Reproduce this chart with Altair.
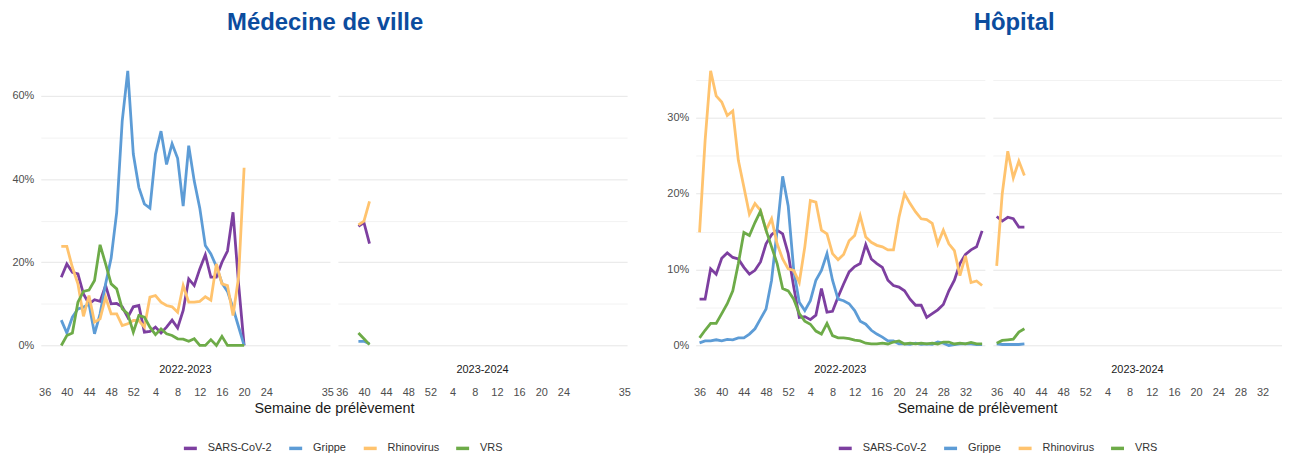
import altair as alt
import pandas as pd

SERIES = ["SARS-CoV-2", "Grippe", "Rhinovirus", "VRS"]
COLORS = ["#7d3fa0", "#5d9cd6", "#ffc36e", "#6dab48"]
SEASONS = ["2022-2023", "2023-2024"]
GROUPS = ["Médecine de ville", "Hôpital"]

# ---------------- Médecine de ville ----------------
mv1_weeks = [39, 40, 41, 42, 43, 44, 45, 46, 47, 48, 49, 50, 51, 52,
             1, 2, 3, 4, 5, 6, 7, 8, 9, 10, 11, 12, 13, 14, 15, 16, 17, 18, 19, 20]
mv1_sars = [16.4, 19.6, 17.6, 17.2, 12.4, 10.0, 11.0, 10.6, 14.4, 10.0, 10.1, 9.3, 6.8, 9.3,
            9.6, 3.2, 3.4, 4.4, 3.0, 4.4, 6.1, 4.2, 8.4, 16.0, 14.4, 18.4, 21.8, 16.4, 16.4,
            20.0, 22.7, 32.0, 14.8, 0.0]
mv1_grippe = [6.1, 3.0, 6.8, 8.8, 9.2, 10.0, 2.8, 7.6, 14.8, 21.0, 32.0, 54.0, 66.0, 46.0,
              38.0, 34.0, 33.0, 46.0, 51.5, 43.5, 48.5, 45.0, 33.5, 48.0, 39.5, 33.0, 24.0,
              22.0, 19.0, 15.0, 13.0, 9.0, 4.5, 0.0]
mv1_rhino = [23.8, 23.8, 18.8, 14.8, 7.0, 12.0, 5.6, 6.4, 11.6, 7.6, 7.6, 4.8, 5.2, 6.0,
             6.0, 4.4, 11.6, 12.0, 10.4, 9.6, 9.3, 8.0, 14.4, 10.4, 10.4, 10.6, 11.7, 10.9,
             19.6, 14.8, 14.4, 7.2, 16.4, 42.7]
mv1_vrs = [0.0, 2.4, 3.0, 10.4, 13.0, 13.3, 15.6, 24.2, 19.6, 14.8, 13.6, 8.8, 7.6, 3.2,
           7.2, 6.8, 4.4, 2.6, 4.0, 2.8, 2.4, 1.6, 1.5, 1.0, 1.6, 0.0, 0.0, 1.4, 0.0, 2.2,
           0.0, 0.0, 0.0, 0.0]

mv2_weeks = [39, 40, 41]
mv2_sars = [28.6, 29.5, 24.5]
mv2_grippe = [1.0, 1.0, 0.4]
mv2_rhino = [29.0, 29.9, 34.6]
mv2_vrs = [3.0, 1.6, 0.2]

# ---------------- Hôpital ----------------
hp1_weeks = [36, 37, 38, 39, 40, 41, 42, 43, 44, 45, 46, 47, 48, 49, 50, 51, 52,
             1, 2, 3, 4, 5, 6, 7, 8, 9, 10, 11, 12, 13, 14, 15, 16, 17, 18, 19, 20,
             21, 22, 23, 24, 25, 26, 27, 28, 29, 30, 31, 32, 33, 34, 35]
hp1_sars = [6.1, 6.1, 10.1, 9.4, 11.5, 12.2, 11.6, 11.4, 10.3, 9.4, 9.9, 11.0, 13.4, 14.6,
            15.2, 14.7, 12.1, 7.7, 3.7, 3.8, 3.4, 4.0, 7.5, 4.4, 4.5, 6.4, 8.1, 9.7, 10.4,
            10.8, 13.3, 11.4, 10.8, 10.3, 8.6, 7.9, 7.7, 7.2, 6.1, 5.3, 5.3, 3.7, 4.2, 4.7,
            5.4, 7.2, 8.6, 10.8, 12.0, 12.6, 13.0, 15.1]
hp1_grippe = [0.35, 0.6, 0.6, 0.75, 0.6, 0.8, 0.75, 1.0, 1.0, 1.5, 2.2, 3.5, 4.8, 8.6,
              15.2, 22.3, 18.4, 9.9, 5.7, 4.6, 5.9, 8.6, 9.9, 12.1, 8.6, 6.1, 5.9, 5.5,
              4.6, 3.2, 2.8, 2.0, 1.5, 1.1, 0.6, 0.6, 0.2, 0.2, 0.15, 0.3, 0.15, 0.2,
              0.15, 0.45, 0.3, 0.0, 0.1, 0.2, 0.2, 0.2, 0.1, 0.1]
hp1_rhino = [14.9, 27.0, 36.2, 32.9, 32.1, 30.3, 30.9, 24.4, 20.9, 17.3, 18.7, 17.8, 15.2,
             16.7, 13.4, 11.4, 10.1, 9.9, 8.3, 13.0, 19.1, 18.9, 15.2, 14.7, 12.1, 11.3,
             12.0, 13.8, 14.5, 17.1, 14.3, 13.6, 13.2, 13.0, 12.6, 12.6, 16.9, 20.0, 18.7,
             17.6, 16.7, 16.6, 16.1, 13.4, 15.2, 13.4, 12.5, 9.2, 11.8, 8.3, 8.5, 7.9]
hp1_vrs = [1.0, 2.0, 2.9, 2.9, 4.2, 5.5, 7.2, 10.8, 14.9, 14.5, 16.2, 17.7, 15.2, 13.0,
           10.8, 7.5, 7.2, 6.1, 4.2, 3.2, 2.8, 1.9, 1.5, 2.9, 1.3, 1.0, 1.0, 0.9, 0.7,
           0.6, 0.3, 0.2, 0.2, 0.3, 0.2, 0.45, 0.6, 0.2, 0.3, 0.2, 0.3, 0.2, 0.3, 0.2,
           0.45, 0.45, 0.2, 0.3, 0.2, 0.4, 0.2, 0.2]

hp2_weeks = [36, 37, 38, 39, 40, 41]
hp2_sars = [17.0, 16.4, 16.9, 16.7, 15.6, 15.6]
hp2_grippe = [0.2, 0.13, 0.13, 0.13, 0.13, 0.2]
hp2_rhino = [10.5, 20.0, 25.6, 22.1, 24.3, 22.4]
hp2_vrs = [0.3, 0.66, 0.75, 0.83, 1.76, 2.2]

MV_TICKS = [36, 40, 44, 48, 52, 4, 8, 12, 16, 20, 24, 35]
HP_TICKS = [36, 40, 44, 48, 52, 4, 8, 12, 16, 20, 24, 28, 32]


def week_index(w):
    return w - 36 if w >= 36 else w + 16


def frame(weeks, sars, grippe, rhino, vrs):
    rows = []
    for name, vals in zip(SERIES, [sars, grippe, rhino, vrs]):
        for w, v in zip(weeks, vals):
            rows.append({"idx": week_index(w), "virus": name, "val": v})
    return pd.DataFrame(rows)


W, H = 291, 304
XDOM = [-0.7, 51.5]
GRID_MAJOR = "#e6e6e6"
GRID_MINOR = "#f2f2f2"


def panel(df, season, ticks, ydom, ystep, ymajor, first, title_x):
    tick_idx = [week_index(t) for t in ticks]
    yvals = [ystep * i for i in range(int(ydom[1] // ystep) + 1)]
    xaxis = alt.Axis(
        values=tick_idx,
        labelExpr="datum.value <= 16 ? datum.value + 36 : datum.value - 16",
        grid=False, ticks=False, tickSize=0, domain=False,
        labelPadding=28, labelFontSize=11, labelColor="#4d4d4d",
        labelOverlap=False, labelFlush=False,
        title="Semaine de prélèvement" if first else None,
        titleFontSize=14.5, titleFontWeight="normal", titleColor="#1a1a1a",
        titleX=title_x, titleY=43, titleAlign="center", titleBaseline="top",
    )
    yaxis = alt.Axis(
        values=yvals,
        labelExpr=f"datum.value % {ymajor} == 0 ? datum.value + '%' : ''",
        labels=first, ticks=False, tickSize=0, domain=False, title=None,
        labelPadding=7, labelFontSize=11, labelColor="#4d4d4d",
        grid=True, gridWidth=1,
        gridColor={"condition": {"test": f"datum.value % {ymajor} == 0", "value": GRID_MAJOR},
                   "value": GRID_MINOR},
    )
    legend = alt.Legend(
        orient="none", legendX=142, legendY=385, direction="horizontal", title=None,
        symbolType="stroke", symbolStrokeWidth=3.5, symbolSize=170,
        labelFontSize=11, labelColor="#333333", columnPadding=9, labelOffset=9,
    ) if first else None
    lines = alt.Chart(df).mark_line(strokeWidth=2.8).encode(
        x=alt.X("idx:Q", scale=alt.Scale(domain=XDOM, nice=False, zero=False), axis=xaxis),
        y=alt.Y("val:Q", scale=alt.Scale(domain=ydom, nice=False, zero=False), axis=yaxis),
        color=alt.Color("virus:N", sort=SERIES,
                        scale=alt.Scale(domain=SERIES, range=COLORS), legend=legend),
        order=alt.Order("idx:Q"),
        detail="virus:N",
    )
    label = alt.Chart(pd.DataFrame({"season": [season]})).mark_text(
        fontSize=11, color="#1a1a1a", baseline="middle", align="center"
    ).encode(x=alt.value(W / 2), y=alt.value(H + 11), text="season:N")
    return alt.layer(lines, label).properties(width=W, height=H)


def ydomain(*series):
    m = max(max(s) for s in series)
    return [-0.05 * m, 1.05 * m]


mv_dom = ydomain(mv1_sars, mv1_grippe, mv1_rhino, mv1_vrs, mv2_sars, mv2_grippe, mv2_rhino, mv2_vrs)
hp_dom = ydomain(hp1_sars, hp1_grippe, hp1_rhino, hp1_vrs, hp2_sars, hp2_grippe, hp2_rhino, hp2_vrs)

mv_a = panel(frame(mv1_weeks, mv1_sars, mv1_grippe, mv1_rhino, mv1_vrs), SEASONS[0], MV_TICKS,
             mv_dom, 10, 20, True, 295)
mv_b = panel(frame(mv2_weeks, mv2_sars, mv2_grippe, mv2_rhino, mv2_vrs), SEASONS[1], MV_TICKS,
             mv_dom, 10, 20, False, 0)
hp_a = panel(frame(hp1_weeks, hp1_sars, hp1_grippe, hp1_rhino, hp1_vrs), SEASONS[0], HP_TICKS,
             hp_dom, 5, 10, True, 283)
hp_b = panel(frame(hp2_weeks, hp2_sars, hp2_grippe, hp2_rhino, hp2_vrs), SEASONS[1], HP_TICKS,
             hp_dom, 5, 10, False, 0)


def group(a, b, text, dx):
    return alt.hconcat(
        a, b, spacing=8, bounds="flush",
        title=alt.TitleParams(text, fontSize=24, fontWeight="bold", color="#0b4c9e",
                              anchor="middle", offset=22, dx=dx),
    ).resolve_scale(color="independent")


chart = alt.hconcat(
    group(mv_a, mv_b, GROUPS[0], 4),
    group(hp_a, hp_b, GROUPS[1], 40),
    spacing=35,
).resolve_scale(color="independent").properties(
    padding={"left": 3, "top": 2, "right": 0, "bottom": 0}
).configure(font="Liberation Sans").configure_view(stroke=None)

chart.save("out.html", embed_options={"renderer": "svg", "actions": False})
